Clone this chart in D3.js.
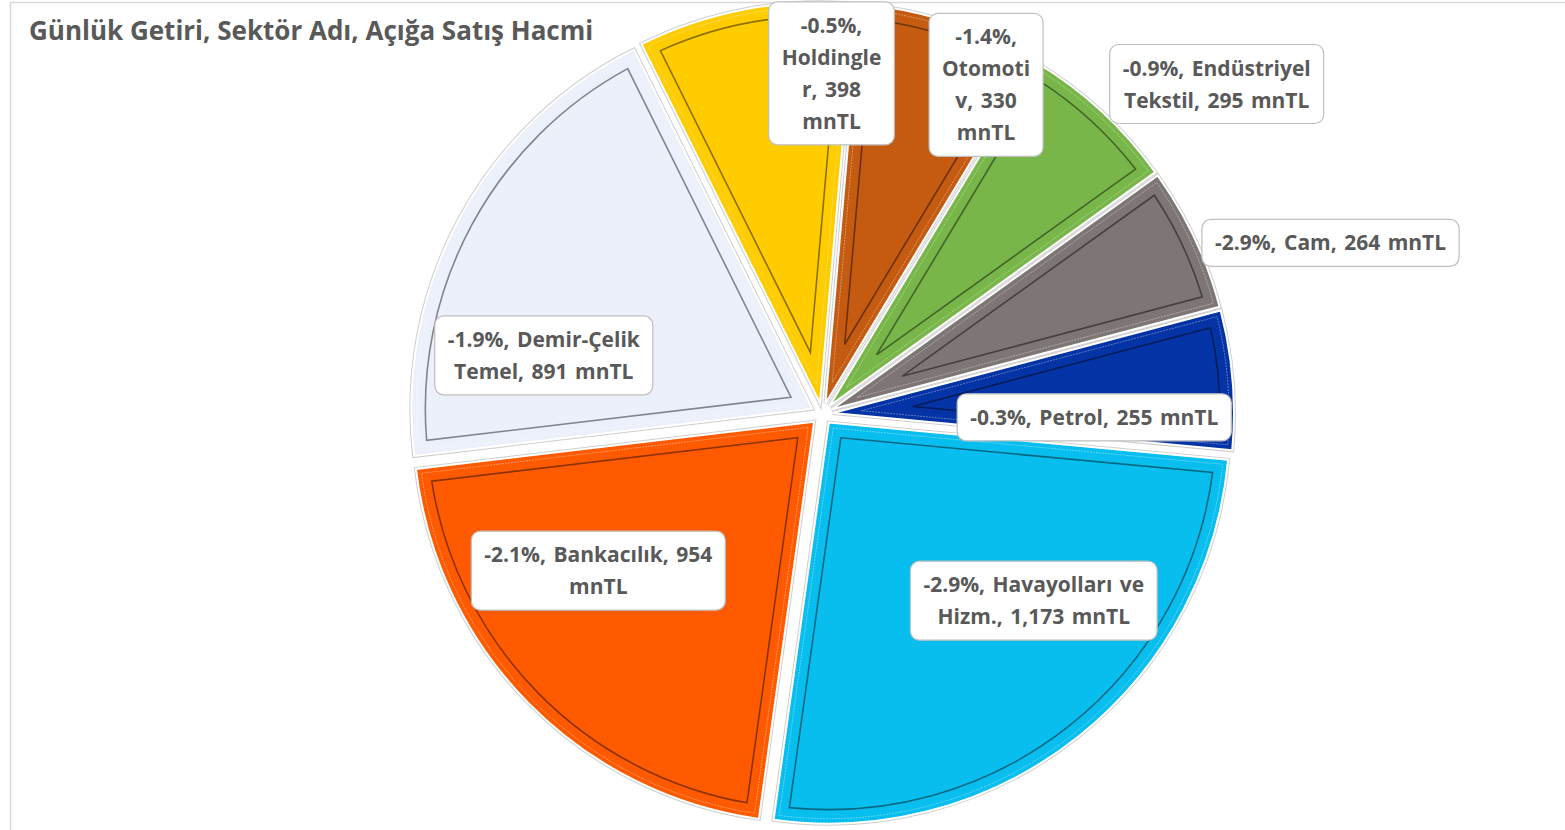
<!DOCTYPE html>
<html>
<head>
<meta charset="utf-8">
<title>Günlük Getiri, Sektör Adı, Açığa Satış Hacmi</title>
<script src="https://cdn.jsdelivr.net/npm/d3@7"></script>
<style>
  body { margin: 0; background: #fff; }
  svg { display: block; font-family: "Open Sans", Lato, sans-serif; }
</style>
</head>
<body>
<script>
// data (clockwise, first slice starts a little past 12 o'clock)
var sectors = ["Otomotiv", "Endüstriyel Tekstil", "Cam", "Petrol",
  "Havayolları ve Hizm.", "Bankacılık", "Demir-Çelik Temel", "Holdingler"];
var volumes = [330, 295, 264, 255, 1173, 954, 891, 398];   // mnTL
var returns = [-1.4, -0.9, -2.9, -0.3, -2.9, -2.1, -1.9, -0.5]; // %
var colors = ["#C55A11", "#78B64A", "#7E7675", "#0433A6",
  "#07BEEE", "#FF5A00", "#ECF0FA", "#FFCC00"];
// label text, wrapped like the original
var labelLines = [
  ["-1.4%,", "Otomoti", "v, 330", "mnTL"],
  ["-0.9%, Endüstriyel", "Tekstil, 295 mnTL"],
  ["-2.9%, Cam, 264 mnTL"],
  ["-0.3%, Petrol, 255 mnTL"],
  ["-2.9%, Havayolları ve", "Hizm., 1,173 mnTL"],
  ["-2.1%, Bankacılık, 954", "mnTL"],
  ["-1.9%, Demir-Çelik", "Temel, 891 mnTL"],
  ["-0.5%,", "Holdingle", "r, 398", "mnTL"]
];
// where each label box sits: [angle in degrees, distance as share of radius]
var labelPos = [[26.5, 0.917], [50.1, 1.283], [71.4, 1.338], [90.7, 0.679],
  [131.4, 0.704], [235.0, 0.681], [281.9, 0.709], [1.6, 0.85]];

var W = 1565, H = 830;
var cx = 822, cy = 414, R = 401, explode = 11;
var firstAngle = 5 * Math.PI / 180;

var data = sectors.map(function(s, i) {
  return {name: s, vol: volumes[i], ret: returns[i], color: colors[i], lines: labelLines[i], pos: labelPos[i]};
});

var svg = d3.select("body").append("svg")
  .attr("width", W).attr("height", H);

// chart frame (runs off the right/bottom of the shot)
svg.append("rect")
  .attr("x", 10.5).attr("y", 2.5)
  .attr("width", W + 20).attr("height", H + 20)
  .attr("fill", "#fff")
  .attr("stroke", "#d9d9d9")
  .attr("stroke-width", 1.5);

svg.append("text")
  .attr("x", 29).attr("y", 40)
  .attr("fill", "#595959")
  .style("font-size", "26px")
  .style("font-weight", "bold")
  .text("Günlük Getiri, Sektör Adı, Açığa Satış Hacmi");

var pie = d3.pie().sort(null)
  .startAngle(firstAngle).endAngle(firstAngle + 2 * Math.PI)
  .value(function(d) { return d.vol; });
var arcs = pie(data);

var arc = d3.arc().innerRadius(0).outerRadius(R);

function polar(a, r) { return [r * Math.sin(a), -r * Math.cos(a)]; }

// inset outline of a wedge, for the bevel look
function insetPath(a0, a1, r, inset) {
  var mid = (a0 + a1) / 2, half = (a1 - a0) / 2;
  var d = inset / Math.sin(half);
  var P = polar(mid, d);
  var rho = r - inset;
  function hit(a) {
    var v = [Math.sin(a), -Math.cos(a)];
    var b = P[0] * v[0] + P[1] * v[1];
    var c = P[0] * P[0] + P[1] * P[1] - rho * rho;
    var t = -b + Math.sqrt(b * b - c);
    return [P[0] + t * v[0], P[1] + t * v[1]];
  }
  var A = hit(a0), B = hit(a1);
  var large = (a1 - a0) > Math.PI ? 1 : 0;
  return "M" + P[0] + "," + P[1] + "L" + A[0] + "," + A[1] +
    "A" + rho + "," + rho + " 0 " + large + " 1 " + B[0] + "," + B[1] + "Z";
}

var slices = svg.append("g")
  .attr("transform", "translate(" + cx + "," + cy + ")")
  .selectAll("g")
  .data(arcs)
  .enter().append("g")
  .attr("transform", function(d) {
    var o = polar((d.startAngle + d.endAngle) / 2, explode);
    return "translate(" + o[0] + "," + o[1] + ")";
  });

slices.append("path")
  .attr("d", arc)
  .attr("fill", "none")
  .attr("stroke", "#cfcfcf")
  .attr("stroke-width", 4);

slices.append("path")
  .attr("d", arc)
  .attr("fill", function(d) { return d.data.color; })
  .attr("stroke", "#fff")
  .attr("stroke-width", 2);

slices.append("path")
  .attr("d", function(d) { return insetPath(d.startAngle, d.endAngle, R, 5); })
  .attr("fill", "none")
  .attr("stroke", "rgba(255,255,255,0.35)")
  .attr("stroke-width", 1)
  .attr("stroke-dasharray", "2,1");

slices.append("path")
  .attr("d", function(d) { return insetPath(d.startAngle, d.endAngle, R, 14); })
  .attr("fill", "none")
  .attr("stroke", "rgba(0,0,0,0.45)")
  .attr("stroke-width", 1.6);

// data labels
var lineH = 32;
var labels = svg.append("g").selectAll("g")
  .data(arcs)
  .enter().append("g")
  .attr("transform", function(d) {
    var p = polar(d.data.pos[0] * Math.PI / 180, d.data.pos[1] * R);
    return "translate(" + (cx + p[0]) + "," + (cy + p[1]) + ")";
  });

labels.each(function(d) {
  var g = d3.select(this);
  var n = d.data.lines.length;
  var box = g.append("rect");
  var txt = g.append("text")
    .attr("text-anchor", "middle")
    .attr("fill", "#595959")
    .style("font-size", "21px")
    .style("font-weight", "bold")
    .style("word-spacing", "2px");
  d.data.lines.forEach(function(l, i) {
    txt.append("tspan")
      .attr("x", 0)
      .attr("y", (i - (n - 1) / 2) * lineH)
      .attr("dy", "0.36em")
      .text(l);
  });
  var w = 0;
  txt.selectAll("tspan").each(function() { w = Math.max(w, this.getComputedTextLength()); });
  var bw = w + 26, bh = n * lineH + 15;
  box.attr("x", -bw / 2).attr("y", -bh / 2)
    .attr("width", bw).attr("height", bh)
    .attr("rx", 9)
    .attr("fill", "#fff")
    .attr("stroke", "#bfbfbf")
    .attr("stroke-width", 1.2);
});
</script>
</body>
</html>
